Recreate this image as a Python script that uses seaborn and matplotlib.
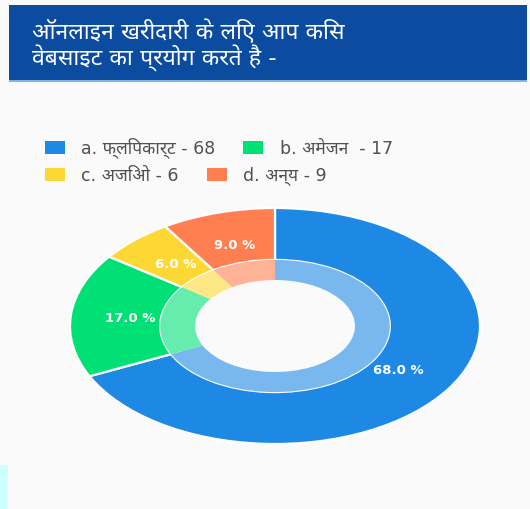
import matplotlib
matplotlib.use("Agg")
import matplotlib.pyplot as plt
import matplotlib.font_manager as fm
from matplotlib import ft2font
from matplotlib.patches import Rectangle, Patch
from matplotlib.colors import to_rgb
import seaborn as sns

# ---------------- data ----------------
title_lines = ["ऑनलाइन खरीदारी के लिए आप किस", "वेबसाइट का प्रयोग करते है -"]
categories = ["a. फ्लिपकार्ट", "b. अमेजन ", "c. अजिओ", "d. अन्य"]
counts = [68, 17, 6, 9]
colors = ["#1E88E5", "#00E075", "#FDD835", "#FF7F50"]

sns.set_theme(style="white")

# find fonts that have Devanagari glyphs, prefer proportional sans ones
cands = []
for path in fm.findSystemFonts():
    try:
        f = ft2font.FT2Font(path)
        if 0x0915 in f.get_charmap():
            fm.fontManager.addfont(path)
            name = fm.FontProperties(fname=path).get_name()
            score = 0
            low = name.lower() + " " + path.lower()
            if "mono" in low:
                score -= 10
            if "devanagari" in low:
                score += 5
            if "sans" in low:
                score += 3
            if "bold" in low:
                score -= 2
            if "ui" in low:
                score += 1
            cands.append((score, name))
    except Exception:
        pass
cands.sort(reverse=True)
deva_family = cands[0][1] if cands else None
families = ["DejaVu Sans"] + ([deva_family] if deva_family else [])
plt.rcParams["font.family"] = families

W, H, DPI = 530, 509, 100
fig = plt.figure(figsize=(W / DPI, H / DPI), dpi=DPI)
fig.patch.set_facecolor("#FAFAFA")

def px(x, y):
    return x / W, 1 - y / H

# header band
fig.patches.append(Rectangle((9 / W, 1 - 80 / H), (527 - 9) / W, 75 / H,
                             transform=fig.transFigure, facecolor="#0B4BA0",
                             edgecolor="none", zorder=0))
fig.patches.append(Rectangle((9 / W, 1 - 82 / H), (527 - 9) / W, 2 / H,
                             transform=fig.transFigure, facecolor="#7FB6E8",
                             edgecolor="none", zorder=0))
fig.patches.append(Rectangle((0, 0), 8 / W, 44 / H,
                             transform=fig.transFigure, facecolor="#CCFFFF",
                             edgecolor="none", zorder=0))
for i, line in enumerate(title_lines):
    fig.text(*px(32, 31 + 27 * i), line, color="white", fontsize=16.5,
             va="center", ha="left")

# legends (two rows flowing)
handles = [Patch(facecolor=c, edgecolor="none") for c in colors]
labels = [f"{c} - {v}" for c, v in zip(categories, counts)]
for row, ypos in ((0, 148), (1, 176)):
    idx = [2 * row, 2 * row + 1]
    leg = fig.legend([handles[i] for i in idx], [labels[i] for i in idx],
                     loc="center left", bbox_to_anchor=px(45, ypos), ncol=2,
                     frameon=False, fontsize=12.5, handlelength=1.15,
                     handleheight=0.8, handletextpad=0.95, columnspacing=1.6,
                     borderaxespad=0, borderpad=0)
    for t in leg.get_texts():
        t.set_color("#505050")

# donut (elliptical)
cx, cy, rx, ry = 275, 326, 205, 118
ax = fig.add_axes([(cx - rx) / W, 1 - (cy + ry) / H, 2 * rx / W, 2 * ry / H])
wedges, _, autotexts = ax.pie(counts, colors=colors, startangle=90,
                              counterclock=False, radius=1.0,
                              autopct=lambda p: f"{p:.1f} %", pctdistance=0.71,
                              wedgeprops=dict(width=0.44, edgecolor="white",
                                              linewidth=1.6),
                              textprops=dict(color="white", fontsize=9.5,
                                             fontweight="bold",
                                             family="DejaVu Sans"))
ax.pie(counts, colors=[tuple(1 - 0.6 * (1 - v) for v in to_rgb(c)) for c in colors],
       startangle=90, counterclock=False, radius=0.56,
       wedgeprops=dict(width=0.17, edgecolor="none"))
ax.set_aspect("auto")
ax.set_xlim(-1, 1)
ax.set_ylim(-1, 1)
ax.axis("off")

fig.savefig("out.png", dpi=DPI, facecolor=fig.get_facecolor())
